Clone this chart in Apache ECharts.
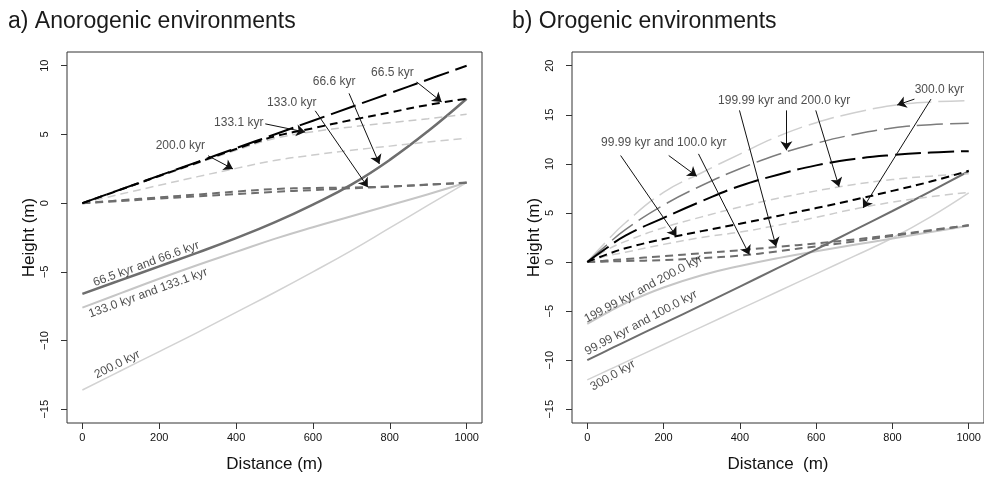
<!DOCTYPE html>
<html><head><meta charset="utf-8">
<script src="https://cdn.jsdelivr.net/npm/echarts@6/dist/echarts.min.js"></script>
<style>html,body{margin:0;padding:0;background:#fff}#c{width:984px;height:478px}</style>
</head><body><div id="c"></div>
<script>
// ---------- Panel a) Anorogenic ----------
const distA = [0,100,200,300,400,500,600,700,800,900,1000];
const a_solid_66 = [-6.6,-5.6,-4.6,-3.6,-2.55,-1.4,-0.1,1.35,3.15,5.25,7.6];
const a_solid_133 = [-7.6,-6.55,-5.5,-4.5,-3.55,-2.6,-1.75,-0.95,-0.15,0.65,1.5];
const a_solid_200 = [-13.6,-12.2,-10.8,-9.4,-7.95,-6.5,-5.0,-3.45,-1.8,-0.15,1.5];
const a_dash_665 = [0,1,2,3,4,5,6,7,8,9,10];
const a_dash_666 = [0,0.99,1.98,2.96,3.94,4.85,5.45,6.05,6.6,7.15,7.6];
const a_dash_1331 = [0,0.97,1.94,2.9,3.85,4.7,5.2,5.55,5.85,6.15,6.47];
const a_dash_200 = [0,0.66,1.3,1.93,2.53,3.1,3.5,3.85,4.15,4.45,4.72];
const a_dash_1330 = [0,0.16,0.33,0.49,0.66,0.82,0.95,1.08,1.2,1.34,1.48];
const a_dash_1330b = [0,0.21,0.42,0.63,0.84,1.03,1.1,1.14,1.22,1.35,1.5];

const labelsA_text = ['66.5 kyr','66.6 kyr','133.0 kyr','133.1 kyr','200.0 kyr','66.5 kyr and 66.6 kyr','133.0 kyr and 133.1 kyr','200.0 kyr'];
const labelsA_x = [807,655,545,407,255,166,171,91];
const labelsA_y = [9.49,8.84,7.34,5.87,4.18,-4.42,-6.54,-11.74];
const labelsA_rot = [0,0,0,0,0,20,20,26.6];
const arrowsA_from = [[870,8.82],[694,7.99],[606,6.72],[476,5.77],[327,3.45]];
const arrowsA_to = [[935,7.37],[773,2.85],[743,1.16],[580,5.17],[392,2.49]];

// ---------- Panel b) Orogenic ----------
const distB = [0,50,100,200,300,400,500,600,700,800,900,1000];
const b_solid_100 = [-10,-9.05,-8.1,-6.25,-4.4,-2.5,-0.6,1.3,3.25,5.2,7.2,9.25];
const b_solid_200 = [-6.3,-5.2,-4.2,-2.6,-1.35,-0.4,0.4,1.1,1.75,2.4,3.05,3.7];
const b_solid_300 = [-12,-11.1,-10.2,-8.4,-6.6,-4.8,-3.0,-1.2,0.6,2.45,4.6,7.05];
const b_long_light = [0,2.1,4.0,7.1,9.1,11.0,12.8,14.2,15.2,15.95,16.3,16.45];
const b_long_gray = [0,1.7,3.3,5.8,7.8,9.5,10.95,12.1,13.0,13.65,14.0,14.13];
const b_long_black = [0,1.4,2.7,4.5,6.2,7.75,8.9,9.85,10.5,10.9,11.15,11.3];
const b_dash_lightA = [0,1.2,2.1,3.5,4.6,5.6,6.5,7.25,7.9,8.4,8.75,9.0];
const b_dash_black = [0,0.75,1.4,2.35,3.15,3.9,4.7,5.5,6.35,7.25,8.2,9.3];
const b_dash_lightB = [0,0.6,1.0,1.8,2.5,3.05,3.75,4.55,5.4,6.1,6.65,7.1];
const b_dash_gray1 = [0,0.15,0.3,0.6,0.9,1.2,1.55,1.9,2.3,2.75,3.25,3.75];
const b_dash_gray2 = [0,0.05,0.1,0.2,0.4,0.65,1.1,1.6,2.1,2.65,3.2,3.75];

const labelsB_text = ['300.0 kyr','199.99 kyr and 200.0 kyr','99.99 kyr and 100.0 kyr','199.99 kyr and 200.0 kyr','99.99 kyr and 100.0 kyr','300.0 kyr'];
const labelsB_x = [923,516,200.5,147.4,141,67];
const labelsB_y = [17.53,16.46,12.12,-2.73,-6.19,-11.57];
const labelsB_rot = [0,0,0,28,28,30];
const arrowsB_from = [[857.6,16.6],[901,16.6],[399,15.45],[522,15.45],[599,15.45],[87.5,10.85],[213.5,10.85],[291.6,11.02]];
const arrowsB_to = [[812.5,16.0],[723,5.51],[495,1.58],[522,11.39],[660,7.67],[234,2.6],[287,8.75],[425,0.74]];

const xTicks = [0,200,400,600,800,1000];
const yTicksA = [-15,-10,-5,0,5,10];
const yTicksB = [-15,-10,-5,0,5,10,15,20];

const FONT = 'Liberation Sans, Arial, Helvetica, sans-serif';
const minus = v => String(v).replace('-', '\u2212');
const plain = v => String(v);

function pairs(xs, ys){ return xs.map((x,i)=>[x, ys[i]]); }
function lineSeries(idx, xs, ys, color, width, type){
  return {type:'line', xAxisIndex:idx, yAxisIndex:idx, data:pairs(xs,ys), showSymbol:false, symbol:'none',
    smooth:0.45, silent:true, animation:false,
    lineStyle:{color:color, width:width, type:type, cap:'butt'}};
}
function labelSeries(idx, texts, xs, ys, rots){
  return {type:'scatter', xAxisIndex:idx, yAxisIndex:idx, symbolSize:0, silent:true, animation:false, z:10,
    data: texts.map((t,i)=>({value:[xs[i],ys[i]], label:{show:true, formatter:t, rotate:rots[i]}})),
    label:{show:true, position:'inside', align:'center', verticalAlign:'middle', color:'#222', fontSize:12, fontFamily:FONT}};
}
function arrowSeries(idx, from, to){
  return {type:'lines', coordinateSystem:'cartesian2d', xAxisIndex:idx, yAxisIndex:idx, silent:true, animation:false, z:9,
    symbol:['none','arrow'], symbolSize:9,
    lineStyle:{color:'#111', width:1, opacity:1, curveness:0},
    data: from.map((f,i)=>({coords:[f, to[i]]}))};
}
function xAxisDef(idx, name){
  return {type:'value', gridIndex:idx, min:-40, max:1040, name:name, nameLocation:'middle', nameGap:33,
    nameTextStyle:{fontSize:17, color:'#111', fontFamily:FONT},
    axisLine:{show:false, onZero:false}, splitLine:{show:false},
    axisTick:{show:true, customValues:xTicks, length:6, lineStyle:{color:'#333'}},
    axisLabel:{customValues:xTicks, fontSize:11, color:'#111', margin:9, fontFamily:FONT, formatter:plain}};
}
function yAxisDef(idx, min, max, ticks){
  return {type:'value', gridIndex:idx, min:min, max:max, name:'Height (m)', nameLocation:'middle', nameGap:19,
    nameTextStyle:{fontSize:17, color:'#111', fontFamily:FONT},
    axisLine:{show:false, onZero:false}, splitLine:{show:false},
    axisTick:{show:true, customValues:ticks, length:6, lineStyle:{color:'#333'}},
    axisLabel:{customValues:ticks, fontSize:11, color:'#111', rotate:90, margin:17, fontFamily:FONT, formatter:minus}};
}

const DARK='#6e6e6e', LIGHT='#c6c6c6', LIGHTER='#d2d2d2', MID='#7c7c7c';
const LONG=[26,7], SHORT=[8,5];

const series = [
  lineSeries(0, distA, a_solid_200, LIGHTER, 1.5, 'solid'),
  lineSeries(0, distA, a_solid_133, LIGHT, 2, 'solid'),
  lineSeries(0, distA, a_solid_66, DARK, 2.5, 'solid'),
  lineSeries(0, distA, a_dash_200, '#cccccc', 1.5, SHORT),
  lineSeries(0, distA, a_dash_1331, '#c8c8c8', 1.5, SHORT),
  lineSeries(0, distA, a_dash_1330, DARK, 2, SHORT),
  lineSeries(0, distA, a_dash_1330b, DARK, 2, SHORT),
  lineSeries(0, distA, a_dash_666, '#000', 2, SHORT),
  lineSeries(0, distA, a_dash_665, '#000', 2, LONG),
  arrowSeries(0, arrowsA_from, arrowsA_to),
  labelSeries(0, labelsA_text, labelsA_x, labelsA_y, labelsA_rot),

  lineSeries(1, distB, b_solid_300, LIGHTER, 1.5, 'solid'),
  lineSeries(1, distB, b_solid_200, LIGHT, 2, 'solid'),
  lineSeries(1, distB, b_solid_100, DARK, 2, 'solid'),
  lineSeries(1, distB, b_dash_gray2, DARK, 2, SHORT),
  lineSeries(1, distB, b_dash_gray1, DARK, 2, SHORT),
  lineSeries(1, distB, b_dash_lightB, '#cccccc', 1.5, SHORT),
  lineSeries(1, distB, b_dash_lightA, '#cccccc', 1.5, SHORT),
  lineSeries(1, distB, b_dash_black, '#000', 2, SHORT),
  lineSeries(1, distB, b_long_light, '#cfcfcf', 1.5, LONG),
  lineSeries(1, distB, b_long_gray, MID, 1.5, LONG),
  lineSeries(1, distB, b_long_black, '#000', 2, LONG),
  arrowSeries(1, arrowsB_from, arrowsB_to),
  labelSeries(1, labelsB_text, labelsB_x, labelsB_y, labelsB_rot)
];

const chart = echarts.init(document.getElementById('c'), null, {renderer:'canvas'});
chart.setOption({
  animation:false,
  backgroundColor:'#fff',
  textStyle:{fontFamily:FONT},
  title:[
    {text:'a) Anorogenic environments', left:8, top:10, padding:0, textStyle:{fontSize:23, fontWeight:'normal', color:'#1a1a1a', fontFamily:FONT}},
    {text:'b) Orogenic environments', left:512, top:10, padding:0, textStyle:{fontSize:23, fontWeight:'normal', color:'#1a1a1a', fontFamily:FONT}}
  ],
  grid:[
    {left:67, top:52, width:415, height:371, show:true, borderColor:'#333', borderWidth:1, backgroundColor:'transparent'},
    {left:572, top:52, width:414, height:371, show:true, borderColor:'#333', borderWidth:1, backgroundColor:'transparent'}
  ],
  xAxis:[ xAxisDef(0,'Distance (m)'), xAxisDef(1,'Distance  (m)') ],
  yAxis:[ yAxisDef(0,-16,11,yTicksA), yAxisDef(1,-16.4,21.4,yTicksB) ],
  series: series
});
</script></body></html>
